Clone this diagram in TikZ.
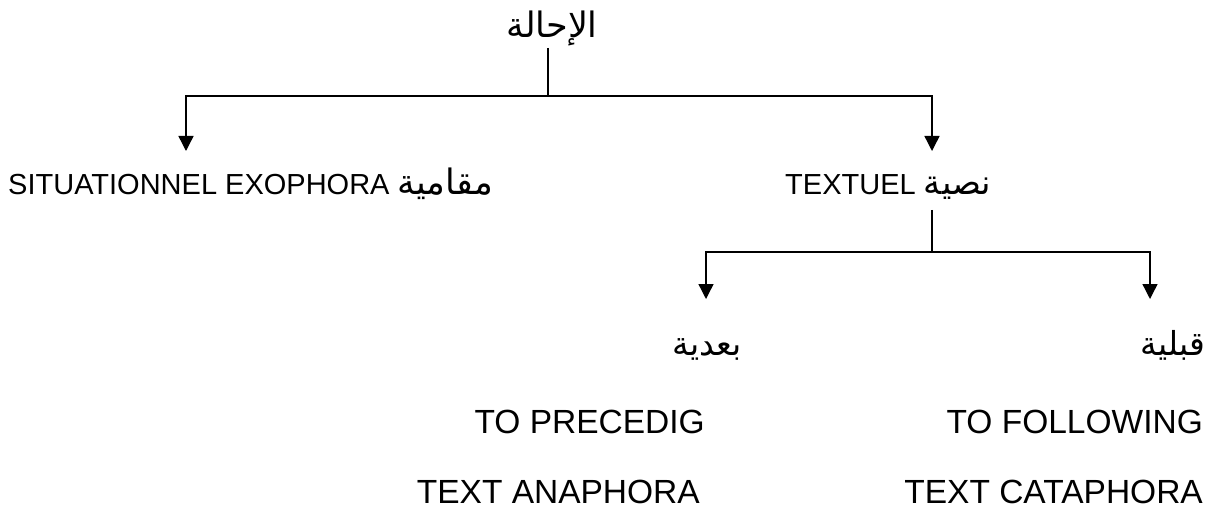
\documentclass[tikz,border=0pt]{standalone}
\usepackage{fontspec}
\setmainfont{Liberation Sans}
\newfontfamily\arabicfont[Script=Arabic]{DejaVu Sans}
\TeXXeTstate=1
\usetikzlibrary{arrows.meta}
\begin{document}
\begin{tikzpicture}[x=1pt,y=-1pt,
  conn/.style={line width=1.4pt,black},
  arr/.style={conn,-{Triangle[width=15pt,length=15pt]}},
  lbl/.style={inner sep=0pt,font=\fontsize{29}{34}\selectfont},
  lbl2/.style={inner sep=0pt,font=\fontsize{33.5}{38}\selectfont},
  arl/.style={inner sep=0pt,font=\fontsize{33}{38}\selectfont\arabicfont},
  ttl/.style={inner sep=0pt,font=\fontsize{35}{40}\selectfont\arabicfont}]
\useasboundingbox[fill=white] (0,0) rectangle (1215,513);
% texts
\node[ttl,anchor=base] (title) at (552,38) {\beginR الإحالة\endR};
\node[lbl,anchor=base west] (exo) at (8,195) {SITUATIONNEL EXOPHORA {\fontsize{35}{40}\selectfont\arabicfont\beginR مقامية\endR}};
\node[lbl,anchor=base west] (txt) at (785,195) {TEXTUEL {\fontsize{34}{40}\selectfont\arabicfont\beginR نصية\endR}};
\node[arl,anchor=base east] (baad) at (742,355) {\beginR بعدية\endR};
\node[arl,anchor=base east] (qabl) at (1205,355) {\beginR قبلية\endR};
\node[lbl2,anchor=base east] (prec) at (705,433) {TO PRECEDIG};
\node[lbl2,anchor=base east] (ana) at (700,503) {TEXT ANAPHORA};
\node[lbl2,anchor=base east] (fol) at (1203,433) {TO FOLLOWING};
\node[lbl2,anchor=base east] (cata) at (1203,503) {TEXT CATAPHORA};
% connectors
\coordinate (t0) at (548,48);
\coordinate (j0) at (548,96);
\coordinate (aL) at (186,151);
\coordinate (aR) at (932,151);
\draw[conn] (t0) -- (j0);
\draw[arr] (j0) -| (aL);
\draw[arr] (j0) -| (aR);
\coordinate (t1) at (932,210);
\coordinate (j1) at (932,252);
\coordinate (bL) at (706,299);
\coordinate (bR) at (1150,299);
\draw[conn] (t1) -- (j1);
\draw[arr] (j1) -| (bL);
\draw[arr] (j1) -| (bR);
\end{tikzpicture}
\end{document}
